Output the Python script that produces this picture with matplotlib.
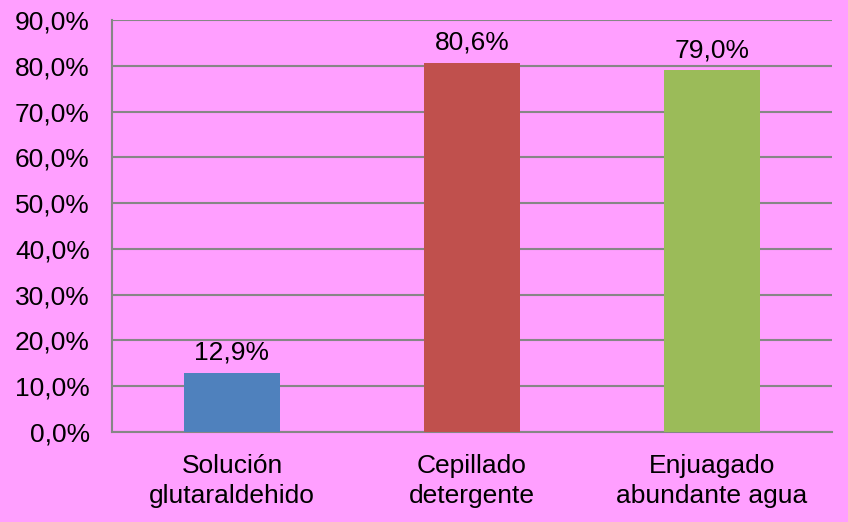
import matplotlib.pyplot as plt
import numpy as np

categories = ["Solución\nglutaraldehido", "Cepillado\ndetergente", "Enjuagado\nabundante agua"]
values = [12.9, 80.6, 79.0]
colors = ["#4F81BD", "#C0504D", "#9BBB59"]
yticks = [0, 10, 20, 30, 40, 50, 60, 70, 80, 90]

bg = "#FF9FFF"
plt.rcParams["font.family"] = ["Liberation Sans", "DejaVu Sans"]

fig = plt.figure(figsize=(8.48, 5.22), dpi=100, facecolor=bg)
ax = fig.add_axes([112 / 848, 1 - 432 / 522, 720 / 848, 412 / 522])
ax.set_facecolor(bg)

x = np.arange(len(categories))
bars = ax.bar(x, values, width=0.4, color=colors, zorder=3)
for xi, v in zip(x, values):
    ax.annotate(f"{v:.1f}%".replace(".", ","), (xi, v), xytext=(0, 6),
                textcoords="offset points", ha="center", va="bottom",
                fontsize=19, color="black")

ax.set_xlim(-0.5, len(categories) - 0.5)
ax.set_ylim(0, 90)
ax.set_yticks(yticks)
ax.set_yticklabels([f"{t:.1f}%".replace(".", ",") for t in yticks], fontsize=19)
ax.set_xticks(x)
ax.set_xticklabels(categories, fontsize=19, linespacing=1.3)
ax.tick_params(axis="both", length=0, colors="black")
ax.tick_params(axis="y", pad=16)
ax.tick_params(axis="x", pad=16)

ax.grid(axis="y", color="#868686", linewidth=1.5, zorder=0)
for side in ["top", "right"]:
    ax.spines[side].set_visible(False)
for side in ["left", "bottom"]:
    ax.spines[side].set_color("#868686")
    ax.spines[side].set_linewidth(1.5)

fig.savefig("out.png", dpi=100, facecolor=bg)
